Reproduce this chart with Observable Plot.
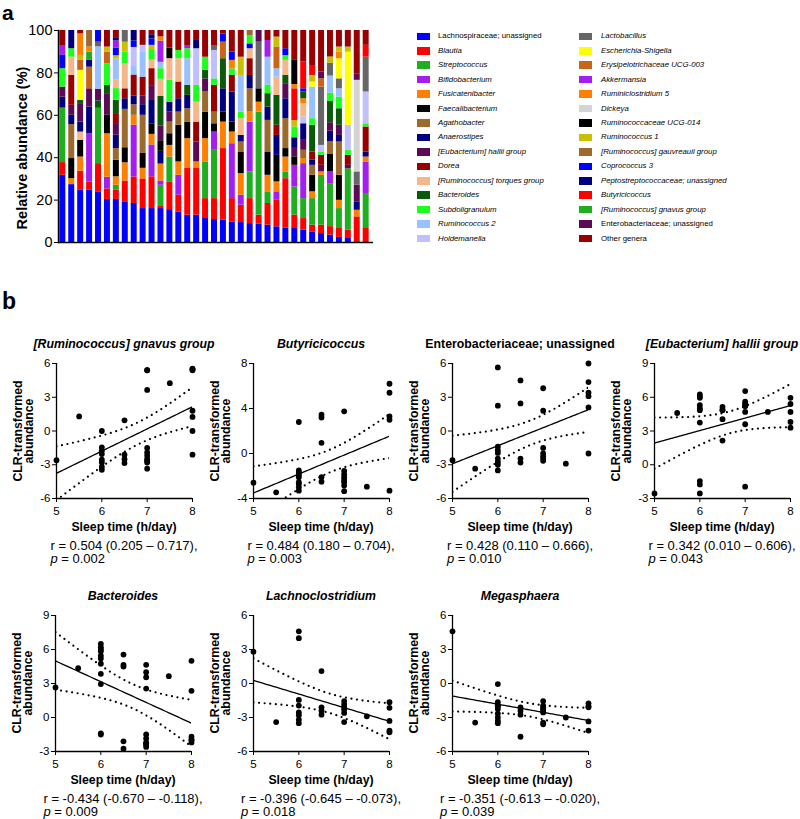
<!DOCTYPE html>
<html><head><meta charset="utf-8">
<script src="https://cdn.jsdelivr.net/npm/d3@7"></script>
<script src="https://cdn.jsdelivr.net/npm/@observablehq/plot@0.6"></script>
<style>
body{margin:0;background:#fff;}
#root{position:relative;width:800px;height:819px;overflow:hidden;background:#fff;font-family:"Liberation Sans",Arial,Helvetica,sans-serif;color:#000;}
.abs{position:absolute;white-space:nowrap;line-height:1;}
.plotbox{position:absolute;}
.plotbox svg{overflow:visible;}
</style></head>
<body><div id="root"></div>
<script>
// ---------------- DATA: panel a ----------------
const genera = ["Lachnospiraceae; unassigned","Blautia","Streptococcus","Bifidobacterium","Fusicatenibacter","Faecalibacterium","Agathobacter","Anaerostipes","[Eubacterium] hallii group","Dorea","[Ruminococcus] torques group","Bacteroides","Subdoligranulum","Ruminococcus 2","Holdemanella","Lactobacillus","Escherichia-Shigella","Erysipelotrichaceae UCG-003","Akkermansia","Ruminiclostridium 5","Dickeya","Ruminococcaceae UCG-014","Ruminococcus 1","[Ruminococcus] gauvreauii group","Coprococcus 3","Peptostreptococcaceae; unassigned","Butyricicoccus","[Ruminococcus] gnavus group","Enterobacteriaceae; unassigned","Other genera"];
const genusColors = ["#0000ff","#ff0000","#1fae1f","#a21ff0","#ff8000","#000000","#9c6a2c","#00007f","#5c0a56","#990000","#f5b689","#0a5a0a","#1cff1c","#99c0ff","#c0c0ff","#666666","#ffff00","#c8651a","#a21ff0","#ff8000","#d4d4d4","#000000","#c8c000","#9c6a2c","#0000ff","#00007f","#ff0000","#1fae1f","#5c0a56","#990000"];
const uprightGenera = ["Lachnospiraceae; unassigned","Enterobacteriaceae; unassigned","Other genera"];
const yTicksA = [0,20,40,60,80,100];
// per sample: [genus index, relative abundance %] from bottom to top
const compositions = [
 [[0,31.7],[1,6],[2,25.7],[7,5.2],[8,4.7],[12,8.7],[24,6.5],[18,4.1],[29,7.4]],
 [[0,27.3],[4,2.8],[5,9.5],[6,16],[7,4.4],[8,4.7],[9,14.1],[10,8.6],[12,4],[25,8.6]],
 [[0,24.6],[1,9],[4,6.7],[5,7.9],[10,3.9],[7,4.7],[8,8.7],[11,1.5],[16,14.2],[17,4.7],[22,2.3],[19,10.2],[29,1.6]],
 [[0,24.6],[1,4],[3,22.7],[7,12.6],[8,8.6],[17,10.2],[25,3.2],[27,3.9],[19,2.4],[23,7.8]],
 [[0,23.9],[1,13.3],[2,26.1],[11,3.5],[8,5.5],[13,20],[15,2.2],[24,5.5]],
 [[0,20.3],[1,5],[3,5.5],[4,20.5],[5,8.7],[8,10.2],[11,3.9],[12,10.2],[17,5.5],[22,2.4],[29,7.8]],
 [[0,20.3],[1,4.3],[2,2.4],[4,4],[5,7.8],[6,5.5],[7,6.3],[8,5.5],[9,4.7],[11,6.3],[12,5.5],[10,4],[13,10],[22,1.5],[24,3.5],[18,3.5],[25,1.5],[29,3.4]],
 [[0,19.2],[1,9.8],[4,8.6],[5,7.1],[6,18.1],[7,5],[9,4.7],[10,11.8],[12,5.5],[22,4.7],[15,5.5]],
 [[0,18.4],[1,12.5],[3,24.4],[4,4.7],[6,5],[7,4],[9,10],[13,4],[14,9],[24,3],[25,5]],
 [[0,16],[1,14],[4,5],[5,7],[6,18],[7,5],[8,4],[9,9],[13,12],[14,3],[29,7]],
 [[0,16],[1,15],[3,15],[4,5],[5,5],[7,11],[8,7],[9,8],[10,4],[12,5],[22,2],[24,3],[25,2],[29,2]],
 [[0,16],[1,1],[2,10],[3,2],[4,8],[7,6],[5,5],[8,7],[11,14],[10,8],[12,5],[13,3],[18,10],[19,2],[29,3]],
 [[0,15.5],[1,13.1],[2,11.7],[4,5.5],[5,5.5],[6,5.5],[8,4.7],[7,4.7],[12,10.3],[10,10.2],[21,5],[29,8.3]],
 [[0,14.4],[1,7.9],[3,9.4],[4,6.3],[5,17.3],[6,6.2],[7,6.3],[9,7.9],[10,11],[12,3.9],[29,9.4]],
 [[0,12.9],[1,22],[4,14.1],[5,7.8],[6,6.3],[7,6.3],[11,4.7],[13,12.6],[12,4.7],[18,1.5],[29,7.1]],
 [[0,12.9],[1,22],[4,3.1],[8,9.4],[9,9.4],[10,9.4],[12,7.9],[14,17.3],[25,3.9],[29,4.7]],
 [[0,11.3],[1,9.4],[2,17.3],[4,11],[5,12.5],[6,9.5],[8,6.2],[11,4],[12,6.2],[29,12.6]],
 [[0,10.8],[1,9.9],[2,22.8],[3,8.6],[5,3.9],[6,5.5],[9,12.6],[12,3.1],[14,13.4],[15,2.3],[29,7.1]],
 [[0,10.5],[1,33.8],[4,12.5],[5,4.7],[7,11],[11,14.2],[17,7.8],[24,3.9],[29,1.6]],
 [[0,9.7],[1,11],[3,25.9],[4,5.5],[5,4.7],[7,14.2],[9,7.8],[12,3.1],[19,4],[24,3.9],[29,10.2]],
 [[0,9.4],[1,8.2],[3,4.7],[4,10.2],[5,10.2],[6,4.7],[7,3.1],[10,7.9],[12,3.1],[13,17.3],[22,8.6],[29,12.6]],
 [[0,8.9],[1,11.8],[2,12.6],[3,23.5],[4,4.7],[6,11],[7,6.3],[9,7.9],[10,4.7],[24,2.3],[12,3.9],[23,2.4]],
 [[0,8.6],[1,4.3],[2,48.6],[4,4.7],[5,6.3],[15,22],[28,5.5]],
 [[0,8.2],[1,10.2],[2,5.5],[4,7.8],[5,11],[6,14.9],[7,6.3],[11,6.3],[12,3.9],[13,13.3],[18,7.9],[29,4.7]],
 [[0,7.4],[1,12.5],[3,4],[4,4.7],[5,12.5],[7,9.4],[9,4.8],[11,14.1],[10,8.6],[13,3.9],[17,10.3],[22,4.7],[29,3.1]],
 [[0,6.9],[1,23.2],[2,3.2],[4,7],[5,4],[6,14.1],[7,9.4],[8,7.1],[11,3.9],[10,7.1],[12,2.3],[24,3.2],[29,8.6]],
 [[0,6.6],[1,6.3],[2,13.3],[3,10.2],[5,4],[8,4],[7,5],[12,5.1],[22,3],[26,15],[19,2],[21,11.4],[29,14.1]],
 [[0,5.8],[1,5.5],[2,9.4],[3,16.5],[4,2.4],[6,3.9],[8,4.7],[7,7.8],[14,3.2],[10,6.3],[19,2.3],[11,3.2],[24,1.5],[26,12.6],[29,14.9]],
 [[0,5],[1,3.2],[2,12.5],[4,3.2],[5,7.8],[6,4.7],[7,2.4],[9,3.9],[11,12.6],[12,3.1],[13,14.9],[16,2.4],[22,3.1],[26,4.7],[29,16.5]],
 [[0,4.2],[1,4],[2,23.5],[4,1.6],[8,3.1],[9,4.7],[12,1.6],[14,3.1],[15,27.5],[17,3.9],[28,3.2],[29,19.6]],
 [[0,3.5],[1,4],[2,20],[3,6],[5,8],[6,6],[7,5],[8,4],[11,10],[12,4],[13,8],[15,6],[22,3],[29,12.5]],
 [[0,2.4],[1,4.2],[2,9.4],[4,3.9],[5,11.8],[6,15.7],[7,3.1],[8,4.8],[11,7.8],[12,5.5],[13,3.9],[15,4.7],[16,9.5],[19,3.1],[22,2.4],[29,7.8]],
 [[0,1.9],[1,3.9],[2,29],[8,1.6],[9,4.7],[12,2.4],[14,11.8],[16,34.5],[22,2.4],[29,7.8]],
 [[1,12.1],[4,3.1],[7,4],[8,7.8],[15,6.3],[20,43.2],[28,3.1],[29,20.4]],
 [[1,6.6],[2,16.5],[3,14.9],[4,2.3],[7,2.4],[9,11.8],[12,1.5],[14,15],[15,16.4],[26,5.6],[29,7]]
];
const sampleIds = compositions.map((_, i) => "S" + (i + 1));

// ---------------- DATA: panel b ----------------
const scatterTitles = ["[Ruminococcus] gnavus group","Butyricicoccus","Enterobacteriaceae; unassigned","[Eubacterium] hallii group","Bacteroides","Lachnoclostridium","Megasphaera"];
const titleItalic = [true,true,false,true,true,true,true];
const rTexts = ["r = 0.504 (0.205 – 0.717),","r = 0.484 (0.180 – 0.704),","r = 0.428 (0.110 – 0.666),","r = 0.342 (0.010 – 0.606),","r = -0.434 (-0.670 – -0.118),","r = -0.396 (-0.645 – -0.073),","r = -0.351 (-0.613 – -0.020),"];
const pValues = ["0.002","0.003","0.010","0.043","0.009","0.018","0.039"];
const xTicksB = [5,6,7,8];
const yDomainsB = [[-6,6],[-4,8],[-6,6],[-3,9],[-3,9],[-6,6],[-6,6]];
const yTicksB = [[-6,-3,0,3,6],[-4,0,4,8],[-6,-3,0,3,6],[-3,0,3,6,9],[-3,0,3,6,9],[-6,-3,0,3,6],[-6,-3,0,3,6]];

const gnavusSleep = [5,5.5,6,6,6,6,6,6,6,6,6.5,6.5,6.5,6.5,7,7,7,7,7,7,7,7,7,7,7.5,8,8,8,8,8,8,8];
const gnavusCLR = [-2.6,1.3,0.0,-1.45,-1.75,-2.05,-2.55,-2.8,-3.2,-3.45,0.95,-2.1,-2.5,-2.85,5.4,5.4,3.65,-1.5,-1.9,-2.2,-2.5,-2.65,-2.8,-3.35,4.25,5.55,5.5,5.4,1.8,1.25,0.0,-2.1];
const butyriSleep = [5,5.5,6,6,6,6,6,6,6,6,6,6.5,6.5,6.5,6.5,6.5,7,7,7,7,7,7,7,7,7.5,8,8,8,8,8];
const butyriCLR = [-2.6,-3.45,2.8,-1.5,-1.7,-1.9,-2.1,-2.55,-2.7,-3.0,-3.3,3.45,3.2,0.95,-2.1,-2.5,3.75,-1.55,-1.85,-2.1,-2.35,-2.55,-2.85,-3.35,-2.95,6.2,5.4,3.3,3.0,-3.3];
const enteroSleep = [5,5.5,6,6,6,6,6,6,6,6,6,6.5,6.5,6.5,6.5,7,7,7,7,7,7,7,7.5,8,8,8,8,8,8];
const enteroCLR = [-2.6,-3.35,5.65,2.25,-1.4,-1.7,-1.95,-2.45,-2.75,-3.0,-3.5,4.5,2.45,-2.45,-2.8,3.8,1.8,-1.5,-2.0,-2.25,-2.45,-2.65,-2.9,6.0,4.35,3.4,3.1,2.1,-2.0];
const halliiSleep = [5,5.5,6,6,6,6,6,6,6,6,6,6,6.5,6.5,6.5,6.5,6.5,7,7,7,7,7,7,7,7,7.5,8,8,8,8,8];
const halliiCLR = [-2.55,4.6,6.25,6.05,5.95,5.3,5.0,4.85,3.75,-1.45,-1.75,-2.55,5.15,4.9,4.85,4.05,2.15,6.55,5.6,5.45,5.3,5.2,4.7,3.6,-1.95,4.7,5.95,5.4,4.7,3.8,3.3];
const bacteroSleep = [5,5.5,6,6,6,6,6,6,6,6,6,6,6,6.5,6.5,6.5,6.5,6.5,7,7,7,7,7,7,7,7,7,7,7.5,8,8,8,8,8,8];
const bacteroCLR = [2.65,4.35,6.5,6.2,6.0,5.85,5.45,5.2,4.75,3.85,2.95,-1.4,-1.5,5.55,4.65,4.5,-2.1,-2.75,4.65,4.0,3.55,2.55,-1.5,-1.85,-2.2,-2.3,-2.4,-2.6,3.65,5.0,2.35,-1.7,-1.95,-2.0,-2.2];
const lachnoSleep = [5,5.5,6,6,6,6,6,6,6,6,6.5,6.5,6.5,6.5,7,7,7,7,7,7,7.5,8,8,8,8,8];
const lachnoCLR = [2.8,-3.4,4.6,4.0,-1.45,-1.95,-2.55,-2.8,-3.2,-3.5,1.1,-2.1,-2.4,-2.75,-1.55,-1.85,-2.1,-2.3,-2.6,-3.4,-2.9,-1.65,-2.15,-3.3,-4.15,-4.3];
const megaSleep = [5,5.5,6,6,6,6,6,6,6,6,6,6.5,6.5,6.5,6.5,7,7,7,7,7,7,7,7,7.5,8,8,8,8,8];
const megaCLR = [4.6,-3.45,-0.05,-1.65,-1.95,-2.0,-2.25,-2.65,-3.0,-3.3,-3.5,-2.1,-2.4,-2.75,-4.7,-1.55,-1.95,-2.1,-2.25,-2.4,-2.55,-3.45,-3.6,-3.0,-1.75,-2.0,-2.1,-3.35,-4.15];

// ---------------- RENDER ----------------
const FONT = '"Liberation Sans", Arial, Helvetica, sans-serif';
const root = document.getElementById("root");

function addText(html, x, y, css = {}, anchor = "middle") {
  const d = document.createElement("div");
  d.className = "abs";
  d.innerHTML = html;
  d.style.left = x + "px";
  d.style.top = y + "px";
  d.style.transform = anchor === "middle" ? "translate(-50%,-50%)" : "translate(0,-50%)";
  Object.assign(d.style, css);
  root.appendChild(d);
  return d;
}
function place(node, left, top) {
  const w = document.createElement("div");
  w.className = "plotbox";
  w.style.left = left + "px";
  w.style.top = top + "px";
  w.appendChild(node);
  root.appendChild(w);
}

// panel letters
addText("a", 2, 11.5, {fontSize: "21px", fontWeight: "bold"}, "left");
addText("b", 2, 301, {fontSize: "23px", fontWeight: "bold"}, "left");

// ---- panel a: stacked bars ----
const rows = [];
compositions.forEach((segs, i) => segs.forEach(([g, v]) => rows.push({sample: sampleIds[i], genus: genera[g], value: v})));

const barChart = Plot.plot({
  width: 380, height: 252,
  marginLeft: 58, marginRight: 7, marginTop: 30, marginBottom: 10,
  style: {fontFamily: FONT, fontSize: "14.5px", color: "#000", background: "none", overflow: "visible"},
  x: {type: "band", domain: sampleIds, paddingInner: 0.33, paddingOuter: 0.15, insetRight: 3, axis: null},
  y: {domain: [0, 100], ticks: yTicksA, tickSize: 4, tickPadding: 2, label: null, tickFormat: d => String(d)},
  color: {type: "ordinal", domain: genera, range: genusColors},
  marks: [
    Plot.barY(rows, {x: "sample", y: "value", fill: "genus"}),
    Plot.ruleY([0], {strokeWidth: 1.5}),
    Plot.frame({anchor: "left", strokeWidth: 1.5})
  ]
});
place(barChart, 0, 0);
addText("Relative abundance (%)", 21.5, 147.5, {fontSize: "14.5px", fontWeight: "bold", transform: "translate(-50%,-50%) rotate(-90deg)"});

// legend (two columns of 15)
genera.forEach((g, i) => {
  const col = i < 15 ? 0 : 1, row = i % 15;
  const cy = 36.3 + 14.45 * row;
  const sw = document.createElement("div");
  sw.style.cssText = `position:absolute;left:${col ? 579 : 417}px;top:${cy - 3.8}px;width:13px;height:7.6px;background:${genusColors[i]};`;
  root.appendChild(sw);
  addText(g, col ? 601 : 438, cy, {fontSize: "7.8px", fontStyle: uprightGenera.includes(g) ? "normal" : "italic"}, "left");
});

// ---- panel b: scatter + regression ----
function tQuantile975(df) {
  const z = 1.959964;
  return z + (z**3 + z) / (4 * df) + (5 * z**5 + 16 * z**3 + 3 * z) / (96 * df * df)
    + (3 * z**7 + 19 * z**5 + 17 * z**3 - 15 * z) / (384 * df ** 3);
}
function regression(xs, ys) {
  const n = xs.length, mx = d3.mean(xs), my = d3.mean(ys);
  let sxx = 0, sxy = 0;
  for (let i = 0; i < n; i++) { sxx += (xs[i] - mx) ** 2; sxy += (xs[i] - mx) * (ys[i] - my); }
  const b = sxy / sxx, a = my - b * mx;
  let sse = 0;
  for (let i = 0; i < n; i++) sse += (ys[i] - a - b * xs[i]) ** 2;
  const s = Math.sqrt(sse / (n - 2)), t = tQuantile975(n - 2);
  const [x0, x1] = d3.extent(xTicksB);
  return d3.range(0, 61).map(k => {
    const x = x0 + (x1 - x0) * k / 60;
    const yh = a + b * x;
    const h = t * s * Math.sqrt(1 / n + (x - mx) ** 2 / sxx);
    return {x, fit: yh, lo: yh - h, hi: yh + h};
  });
}

const sleepSets = [gnavusSleep, butyriSleep, enteroSleep, halliiSleep, bacteroSleep, lachnoSleep, megaSleep];
const clrSets = [gnavusCLR, butyriCLR, enteroCLR, halliiCLR, bacteroCLR, lachnoCLR, megaCLR];
const frameLeft = [56, 253, 452, 654, 55, 253, 452];
const frameTop = [363, 363, 363, 363, 615, 615, 615];
const frameH = [135, 135, 135, 135, 136, 136, 136];
const FW = 136, mL = 44, mR = 10, mT = 10, mB = 30;

scatterTitles.forEach((title, i) => {
  const pts = sleepSets[i].map((x, k) => ({x, y: clrSets[i][k]}));
  const band = regression(sleepSets[i], clrSets[i]);
  const dotted = {strokeWidth: 2.2, strokeDasharray: "0,5.6", strokeLinecap: "round", clip: true};
  const chart = Plot.plot({
    width: FW + mL + mR, height: frameH[i] + mT + mB,
    marginLeft: mL, marginRight: mR, marginTop: mT, marginBottom: mB,
    style: {fontFamily: FONT, fontSize: "11.5px", color: "#000", background: "none", overflow: "visible"},
    x: {domain: d3.extent(xTicksB), ticks: xTicksB, tickSize: 4, tickPadding: 4, label: null, tickFormat: d => String(d)},
    y: {domain: yDomainsB[i], ticks: yTicksB[i], tickSize: 4, tickPadding: 2, label: null, tickFormat: d => String(d)},
    marks: [
      Plot.ruleX([xTicksB[0]], {strokeWidth: 1.3}),
      Plot.ruleY([yDomainsB[i][0]], {strokeWidth: 1.3}),
      Plot.line(band, {x: "x", y: "lo", ...dotted}),
      Plot.line(band, {x: "x", y: "hi", ...dotted}),
      Plot.line(band, {x: "x", y: "fit", strokeWidth: 1.3, clip: true}),
      Plot.dot(pts, {x: "x", y: "y", r: 2.9, fill: "#000"})
    ]
  });
  place(chart, frameLeft[i] - mL, frameTop[i] - mT);

  const cx = frameLeft[i] + FW / 2;
  const top = frameTop[i], bottom = frameTop[i] + frameH[i];
  addText(title, cx, top - 19, {fontSize: "12.3px", fontWeight: "bold", fontStyle: titleItalic[i] ? "italic" : "normal"});
  addText("CLR-transformed<br>abundance", frameLeft[i] - 33, top + frameH[i] / 2,
    {fontSize: "12.3px", fontWeight: "bold", lineHeight: "10.5px", textAlign: "center", transform: "translate(-50%,-50%) rotate(-90deg)"});
  addText("Sleep time (h/day)", cx, bottom + 29, {fontSize: "12.3px", fontWeight: "bold"});
  addText(`${rTexts[i]}<br><i>p</i> = ${pValues[i]}`, cx, bottom + 53.5, {fontSize: "13px", lineHeight: "13.5px", textAlign: "left"});
});
</script>
</body></html>
